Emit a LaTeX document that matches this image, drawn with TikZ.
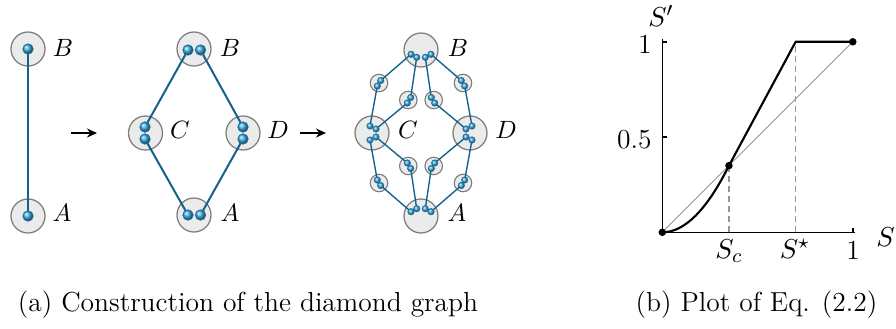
\documentclass[tikz,border=0pt]{standalone}
\usetikzlibrary{arrows.meta}
\definecolor{edgeblue}{RGB}{18,98,140}
\definecolor{ballblue}{RGB}{60,170,222}
\definecolor{balledge}{RGB}{25,110,160}
\definecolor{vfill}{RGB}{235,235,235}
\definecolor{vline}{RGB}{125,125,125}
\definecolor{plotgray}{RGB}{150,150,150}
\tikzset{
  vbig/.style={circle, draw=vline, fill=vfill, line width=0.5pt, minimum size=13.6pt, inner sep=0pt},
  vsmall/.style={circle, draw=vline, fill=vfill, line width=0.45pt, minimum size=7pt, inner sep=0pt},
  ballL/.style={circle, inner sep=0pt, minimum size=4.2pt, shading=ball, ball color=ballblue, draw=balledge, line width=0.25pt},
  ballS/.style={circle, inner sep=0pt, minimum size=2.6pt, shading=ball, ball color=ballblue, draw=balledge, line width=0.2pt},
  edgeL/.style={draw=edgeblue, line width=0.8pt},
  edgeS/.style={draw=edgeblue, line width=0.55pt},
  lab/.style={font=\fontsize{10}{11}\selectfont, inner sep=0pt},
  numlab/.style={font=\fontsize{11}{12}\selectfont, inner sep=0pt},
  slab/.style={font=\fontsize{11}{12}\selectfont, inner sep=0pt},
  caplab/.style={font=\fontsize{11}{13}\selectfont, inner sep=0pt},
  steparrow/.style={-{Stealth[length=4pt,width=3.6pt]}, line width=0.8pt, black},
  axisline/.style={line width=0.6pt, black},
  curveline/.style={line width=0.85pt, black},
  diagline/.style={line width=0.35pt, plotgray},
  dashline/.style={line width=0.45pt, plotgray, dash pattern=on 2.4pt off 1.6pt},
  dotmark/.style={circle, fill=black, inner sep=0pt, minimum size=3pt},
}
\begin{document}
\begin{tikzpicture}[x=0.4pt, y=-0.4pt]
\useasboundingbox (0,0) rectangle (896,328);

% ---------- panel 1 ----------
\node[vbig] (p1B) at (28,49) {};
\node[vbig] (p1A) at (28,216) {};
\coordinate (p1b) at (28,49);
\coordinate (p1a) at (28,216);
\draw[edgeL] (p1b) -- (p1a);
\node[ballL] (p1bb) at (p1b) {};
\node[ballL] (p1ab) at (p1a) {};
\node[lab] (p1Bl) at (63,48) {$B$};
\node[lab] (p1Al) at (62,213) {$A$};

% arrow 1
\coordinate (ar1s) at (71,133);
\coordinate (ar1e) at (97,133);
\draw[steparrow] (ar1s) -- (ar1e);

% ---------- panel 2 ----------
\node[vbig] (p2B) at (194,49) {};
\node[vbig] (p2A) at (194,215) {};
\node[vbig] (p2C) at (145.5,133) {};
\node[vbig] (p2D) at (243,133) {};
\coordinate (q2b1) at (188,50);
\coordinate (q2b2) at (200.5,50);
\coordinate (q2a1) at (188,215);
\coordinate (q2a2) at (200.5,215);
\coordinate (q2c1) at (145,127);
\coordinate (q2c2) at (145,139);
\coordinate (q2d1) at (243,127);
\coordinate (q2d2) at (243,139);
\draw[edgeL] (q2b1) -- (q2c1);
\draw[edgeL] (q2b2) -- (q2d1);
\draw[edgeL] (q2c2) -- (q2a1);
\draw[edgeL] (q2d2) -- (q2a2);
\foreach \n in {q2b1,q2b2,q2a1,q2a2,q2c1,q2c2,q2d1,q2d2}
  \node[ballL] (\n n) at (\n) {};
\node[lab] (p2Bl) at (230,48) {$B$};
\node[lab] (p2Cl) at (180,130) {$C$};
\node[lab] (p2Dl) at (278,130) {$D$};
\node[lab] (p2Al) at (230,213) {$A$};

% arrow 2
\coordinate (ar2s) at (300,133);
\coordinate (ar2e) at (326,133);
\draw[steparrow] (ar2s) -- (ar2e);

% ---------- panel 3 ----------
\node[vbig] (p3B) at (421,50) {};
\node[vbig] (p3A) at (421,216) {};
\node[vbig] (p3C) at (372,133) {};
\node[vbig] (p3D) at (470,133) {};
\node[vsmall] (s1) at (379,83) {};
\node[vsmall] (s2) at (408.3,100) {};
\node[vsmall] (s3) at (433.7,100) {};
\node[vsmall] (s4) at (463,83) {};
\node[vsmall] (s5) at (379,183) {};
\node[vsmall] (s6) at (408.3,166) {};
\node[vsmall] (s7) at (433.7,166) {};
\node[vsmall] (s8) at (463,183) {};
% ball positions
\coordinate (b1) at (411,54.3);
\coordinate (b2) at (416.7,57.3);
\coordinate (b3) at (425.3,57.3);
\coordinate (b4) at (431,54.3);
\coordinate (a1) at (411,211.7);
\coordinate (a2) at (416.7,208.7);
\coordinate (a3) at (425.3,208.7);
\coordinate (a4) at (431,211.7);
\coordinate (c1) at (370,126);
\coordinate (c2) at (376,129);
\coordinate (c3) at (376,137);
\coordinate (c4) at (370,140);
\coordinate (d1) at (466,129);
\coordinate (d2) at (472,126);
\coordinate (d3) at (466,137);
\coordinate (d4) at (472,140);
\coordinate (u1) at (380.7,80.5);
\coordinate (u2) at (377.3,86);
\coordinate (v1) at (410.7,97.5);
\coordinate (v2) at (407.3,103);
\coordinate (w1) at (431.3,97.5);
\coordinate (w2) at (434.7,103);
\coordinate (x1) at (461.3,80.5);
\coordinate (x2) at (464.7,86);
\coordinate (l1) at (377.3,180);
\coordinate (l2) at (380.7,185.5);
\coordinate (m1) at (407.3,163);
\coordinate (m2) at (410.7,168.5);
\coordinate (r1) at (434.7,163);
\coordinate (r2) at (431.3,168.5);
\coordinate (o1) at (464.7,180);
\coordinate (o2) at (461.3,185.5);
\draw[edgeS] (b1) -- (u1) (u2) -- (c1);
\draw[edgeS] (b2) -- (v1) (v2) -- (c2);
\draw[edgeS] (b3) -- (w1) (w2) -- (d1);
\draw[edgeS] (b4) -- (x1) (x2) -- (d2);
\draw[edgeS] (c4) -- (l1) (l2) -- (a1);
\draw[edgeS] (c3) -- (m1) (m2) -- (a2);
\draw[edgeS] (d3) -- (r1) (r2) -- (a3);
\draw[edgeS] (d4) -- (o1) (o2) -- (a4);
\foreach \n in {b1,b2,b3,b4,a1,a2,a3,a4,c1,c2,c3,c4,d1,d2,d3,d4,u1,u2,v1,v2,w1,w2,x1,x2,l1,l2,m1,m2,r1,r2,o1,o2}
  \node[ballS] (\n n) at (\n) {};
\node[lab] (p3Bl) at (458,48) {$B$};
\node[lab] (p3Cl) at (408,130) {$C$};
\node[lab] (p3Dl) at (506,130) {$D$};
\node[lab] (p3Al) at (457,213) {$A$};

% ---------- plot ----------
\begin{scope}[shift={(662.3,232.3)}, x=76.2pt, y=76.2pt]
  \coordinate (O) at (0,0);
  \coordinate (Xend) at (1.01,0);
  \coordinate (Yend) at (0,1.015);
  \coordinate (Pc) at (0.35,0.35);
  \coordinate (Pcx) at (0.35,0);
  \coordinate (Ps) at (0.7,1);
  \coordinate (Psx) at (0.7,0);
  \coordinate (P1) at (1,1);
  \coordinate (X1) at (1,0);
  \coordinate (X1t) at (1,0.025);
  \coordinate (Yh) at (0,0.5);
  \coordinate (Yht) at (0.025,0.5);
  \coordinate (Y1) at (0,1);
  \coordinate (Y1t) at (0.025,1);
  \draw[diagline] (O) -- (P1);
  \draw[dashline] (Pcx) -- (Pc);
  \draw[dashline] (Psx) -- (Ps);
  \draw[axisline] (O) -- (Xend);
  \draw[axisline] (O) -- (Yend);
  \draw[axisline] (X1) -- (X1t);
  \draw[axisline] (Yh) -- (Yht);
  \draw[axisline] (Y1) -- (Y1t);
  \draw[curveline, line join=round] (O) .. controls (0.1167,0) and (0.2333,0.1167) .. (Pc) -- (Ps) -- (P1);
  \node[dotmark] (dO) at (O) {};
  \node[dotmark] (dc) at (Pc) {};
  \node[dotmark] (d1) at (P1) {};
\end{scope}
\node[numlab, anchor=east] (ly1) at (652,44) {1};
\node[numlab, anchor=east] (ly5) at (652,139.5) {0.5};
\node[slab] (lsp) at (661,16) {$S'$};
\node[slab] (lsx) at (885.5,237) {$S$};
\node[slab, anchor=north] (lsc) at (729,239) {$S_c$};
\node[slab, anchor=north] (lss) at (795,239) {$S^\star$};
\node[numlab, anchor=north] (lx1) at (853,240.5) {1};

% ---------- captions ----------
\node[caplab] (capa) at (248,305) {(a) Construction of the diamond graph};
\node[caplab] (capb) at (756.5,305) {(b) Plot of Eq. (2.2)};
\end{tikzpicture}
\end{document}
